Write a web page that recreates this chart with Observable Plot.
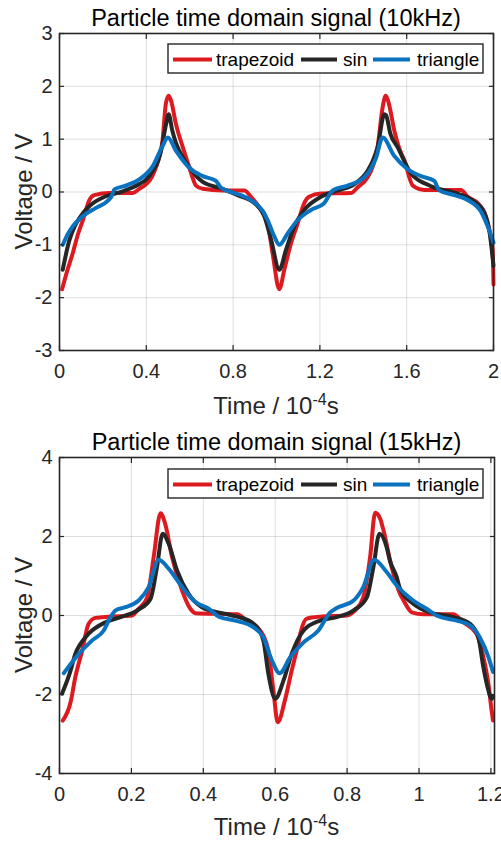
<!DOCTYPE html>
<html><head><meta charset="utf-8">
<script src="https://cdn.jsdelivr.net/npm/d3@7"></script>
<script src="https://cdn.jsdelivr.net/npm/@observablehq/plot@0.6"></script>
<style>
body{margin:0;background:#fff;}
#chart svg{display:block;}
</style>
</head><body><div id="chart"></div>
<script>
// ---------- labels ----------
const panelTitles = ["Particle time domain signal (10kHz)", "Particle time domain signal (15kHz)"];
const xLabelMain = "Time / 10";
const xLabelSup = "-4";
const xLabelUnit = "s";
const yLabel = "Voltage / V";
const seriesNames = ["trapezoid", "sin", "triangle"];
const seriesColors = ["#dd1a1f", "#262626", "#0a72bf"];

// ---------- ticks ----------
const xTicks10 = [0, 0.4, 0.8, 1.2, 1.6, 2];
const yTicks10 = [-3, -2, -1, 0, 1, 2, 3];
const xTicks15 = [0, 0.2, 0.4, 0.6, 0.8, 1, 1.2];
const yTicks15 = [-4, -2, 0, 2, 4];
const xDomain10 = [0, 2];
const yDomain10 = [-3, 3];
const xDomain15 = [0, 1.21];
const yDomain15 = [-4, 4];

// ---------- 10 kHz data ----------
const t10Trap = [0.012,0.035,0.061,0.085,0.107,0.125,0.137,0.16,0.23,0.337,0.368,0.40,0.425,0.445,0.462,0.475,0.49,0.503,0.514,0.537,0.568,0.598,0.615,0.629,0.66,0.752,0.852,0.882,0.929,0.959,0.982,1.013,1.036,1.067,1.098,1.128,1.15,1.205,1.343,1.374,1.42,1.445,1.466,1.489,1.503,1.514,1.543,1.568,1.589,1.628,1.681,1.85,1.881,1.927,1.965,1.985,1.996,2.0];
const v10Trap = [-1.84,-1.5,-1.16,-0.80,-0.54,-0.30,-0.16,-0.06,-0.02,-0.02,0.06,0.15,0.28,0.47,0.70,0.98,1.67,1.82,1.73,1.28,0.85,0.47,0.25,0.12,0.06,0.03,0.03,-0.09,-0.34,-0.59,-1.16,-1.84,-1.47,-0.97,-0.59,-0.21,-0.09,-0.03,-0.02,0.09,0.28,0.50,0.85,1.60,1.82,1.73,1.16,0.80,0.60,0.12,0.04,0.04,-0.09,-0.21,-0.46,-0.80,-1.09,-1.75];
const t10Sin = [0.015,0.045,0.07,0.091,0.137,0.214,0.291,0.368,0.40,0.43,0.455,0.468,0.491,0.503,0.52,0.535,0.552,0.598,0.66,0.752,0.821,0.898,0.944,0.975,1.013,1.044,1.082,1.128,1.205,1.282,1.359,1.42,1.445,1.466,1.497,1.505,1.525,1.558,1.62,1.712,1.835,1.911,1.958,1.98,2.0];
const v10Sin = [-1.47,-0.92,-0.65,-0.50,-0.27,-0.08,0.01,0.15,0.24,0.40,0.60,0.78,1.28,1.47,1.16,0.95,0.78,0.47,0.19,0.06,-0.06,-0.21,-0.46,-0.90,-1.47,-1.09,-0.65,-0.34,-0.09,0.03,0.15,0.40,0.60,0.85,1.47,1.45,1.10,0.85,0.35,0.11,-0.03,-0.18,-0.40,-0.71,-1.40];
const t10Tri = [0.015,0.035,0.061,0.107,0.168,0.222,0.24,0.253,0.306,0.368,0.43,0.475,0.499,0.537,0.598,0.66,0.721,0.744,0.798,0.836,0.913,0.94,0.959,0.99,1.013,1.052,1.098,1.159,1.22,1.24,1.259,1.328,1.405,1.459,1.489,1.543,1.605,1.666,1.727,1.75,1.82,1.881,1.942,1.973,2.0];
const v10Tri = [-1.00,-0.82,-0.65,-0.46,-0.30,-0.17,-0.08,0.05,0.12,0.24,0.49,0.87,1.03,0.78,0.46,0.30,0.21,0.08,-0.01,-0.06,-0.25,-0.38,-0.53,-0.84,-1.00,-0.78,-0.53,-0.34,-0.21,-0.08,0.03,0.12,0.28,0.65,1.03,0.68,0.43,0.30,0.21,0.03,-0.06,-0.15,-0.37,-0.65,-0.96];

// ---------- 15 kHz data ----------
const t15Trap = [0.009,0.031,0.044,0.063,0.081,0.10,0.137,0.202,0.22,0.244,0.262,0.281,0.294,0.313,0.341,0.364,0.378,0.452,0.494,0.521,0.558,0.581,0.595,0.607,0.628,0.646,0.662,0.672,0.688,0.725,0.799,0.822,0.845,0.864,0.878,0.892,0.90,0.924,0.947,0.956,0.98,1.012,1.095,1.123,1.16,1.179,1.193,1.202,1.206];
const v15Trap = [-2.66,-2.19,-1.56,-0.89,-0.21,-0.06,-0.03,0.0,0.17,0.46,1.48,2.59,2.32,1.48,0.63,0.17,0.06,0.04,0.03,-0.13,-0.38,-0.89,-1.90,-2.70,-2.11,-1.39,-0.80,-0.38,-0.08,-0.03,0.0,0.13,0.46,1.48,2.60,2.45,2.20,1.22,0.55,0.40,0.08,0.03,0.03,-0.17,-0.46,-1.05,-1.73,-2.41,-2.66];
const t15Sin = [0.007,0.031,0.044,0.058,0.081,0.128,0.174,0.22,0.253,0.271,0.287,0.304,0.327,0.359,0.396,0.452,0.494,0.54,0.567,0.581,0.60,0.623,0.646,0.679,0.725,0.771,0.818,0.855,0.873,0.89,0.91,0.919,0.938,0.947,0.984,1.03,1.095,1.142,1.165,1.179,1.193,1.202,1.206];
const v15Sin = [-1.98,-1.39,-0.97,-0.72,-0.46,-0.17,-0.03,0.15,0.42,1.22,2.07,1.81,1.14,0.55,0.21,0.06,-0.03,-0.21,-0.63,-1.48,-2.11,-1.65,-0.97,-0.38,-0.13,-0.04,0.13,0.46,1.22,2.07,1.73,1.39,0.97,0.68,0.30,0.08,-0.04,-0.21,-0.55,-1.31,-1.90,-2.11,-2.05];
const t15Tri = [0.012,0.054,0.091,0.123,0.142,0.156,0.183,0.22,0.248,0.276,0.304,0.341,0.378,0.415,0.443,0.489,0.54,0.567,0.591,0.612,0.642,0.679,0.72,0.753,0.771,0.818,0.845,0.875,0.91,0.938,0.984,1.021,1.049,1.105,1.142,1.169,1.193,1.206];
const v15Tri = [-1.46,-0.97,-0.63,-0.38,-0.04,0.13,0.21,0.38,0.72,1.41,1.18,0.72,0.34,0.17,-0.03,-0.13,-0.30,-0.55,-1.14,-1.46,-1.05,-0.68,-0.38,0.08,0.19,0.38,0.72,1.41,1.10,0.76,0.38,0.17,0.0,-0.13,-0.25,-0.55,-1.05,-1.43];

const FONT = "Liberation Sans, Arial, Helvetica, sans-serif";
const INK = "#262626";

function rows(ts, vs) { return ts.map((t, i) => ({t, v: vs[i]})); }

function panel(cfg) {
  const series = cfg.series.map(([ts, vs]) => rows(ts, vs));
  const svg = Plot.plot({
    width: 501, height: cfg.height,
    marginLeft: 59, marginRight: cfg.mr, marginTop: cfg.mt, marginBottom: cfg.mb,
    style: {fontFamily: FONT, fontSize: "20px", color: INK, background: "#fff", overflow: "visible"},
    x: {domain: cfg.xDomain},
    y: {domain: cfg.yDomain},
    marks: [
      Plot.gridX(cfg.xTicks, {stroke: "#000", strokeOpacity: 0.13, strokeWidth: 1}),
      Plot.gridY(cfg.yTicks, {stroke: "#000", strokeOpacity: 0.13, strokeWidth: 1}),
      ...series.map((d, i) => Plot.line(d, {x: "t", y: "v", stroke: seriesColors[i], strokeWidth: 4, curve: "monotone-x", strokeLinejoin: "round", strokeLinecap: "round"})),
      Plot.axisX(cfg.xTicks, {anchor: "bottom", tickSize: -5, tickPadding: 18, tickFormat: d => String(d), label: null, fontSize: 20, stroke: INK, strokeWidth: 1.2}),
      Plot.axisX(cfg.xTicks, {anchor: "top", tickSize: -5, tickFormat: () => "", label: null, stroke: INK, strokeWidth: 1.2}),
      Plot.axisY(cfg.yTicks, {anchor: "left", tickSize: -5, tickPadding: 12, tickFormat: d => String(d), label: null, fontSize: 20, stroke: INK, strokeWidth: 1.2}),
      Plot.axisY(cfg.yTicks, {anchor: "right", tickSize: -5, tickFormat: () => "", label: null, stroke: INK, strokeWidth: 1.2}),
      Plot.frame({stroke: INK, strokeWidth: 1.6})
    ]
  });
  const s = d3.select(svg);
  const left = 59, right = 501 - cfg.mr, top = cfg.mt, bottom = cfg.height - cfg.mb;
  const cx = (left + right) / 2;
  // title
  s.append("text").attr("x", cx).attr("y", top - 7).attr("text-anchor", "middle")
    .attr("font-family", FONT).attr("font-size", 23.5).attr("fill", "#000").text(cfg.title);
  // x label with superscript
  const xl = s.append("text").attr("x", cx).attr("y", bottom + cfg.xlDy).attr("text-anchor", "middle")
    .attr("font-family", FONT).attr("font-size", 24).attr("fill", INK);
  xl.append("tspan").text(xLabelMain);
  xl.append("tspan").attr("dy", -9).attr("font-size", 16).text(xLabelSup);
  xl.append("tspan").attr("dy", 9).text(xLabelUnit);
  // y label
  s.append("text").attr("transform", `translate(32,${(top + bottom) / 2}) rotate(-90)`).attr("text-anchor", "middle")
    .attr("font-family", FONT).attr("font-size", 24).attr("fill", INK).text(yLabel);
  // legend
  const lg = s.append("g");
  lg.append("rect").attr("x", 168).attr("y", cfg.lgY).attr("width", 315).attr("height", 29)
    .attr("fill", "#fff").attr("stroke", INK).attr("stroke-width", 1.4);
  const ly = cfg.lgY + 15.5;
  const items = [[173, 212, 216], [301, 337, 343], [373, 410, 417]];
  items.forEach(([x1, x2, tx], i) => {
    lg.append("line").attr("x1", x1).attr("x2", x2).attr("y1", ly).attr("y2", ly)
      .attr("stroke", seriesColors[i]).attr("stroke-width", 4);
    lg.append("text").attr("x", tx).attr("y", ly + 6.5).attr("text-anchor", "start")
      .attr("font-family", FONT).attr("font-size", 19).attr("fill", "#000").text(seriesNames[i]);
  });
  return svg;
}

const root = document.getElementById("chart");
root.appendChild(panel({
  height: 420, mt: 33, mb: 70, mr: 8, xlDy: 64, lgY: 44,
  title: panelTitles[0], xDomain: xDomain10, yDomain: yDomain10, xTicks: xTicks10, yTicks: yTicks10,
  series: [[t10Trap, v10Trap], [t10Sin, v10Sin], [t10Tri, v10Tri]]
}));
root.appendChild(panel({
  height: 421, mt: 37, mb: 68, mr: 7, xlDy: 62, lgY: 49,
  title: panelTitles[1], xDomain: xDomain15, yDomain: yDomain15, xTicks: xTicks15, yTicks: yTicks15,
  series: [[t15Trap, v15Trap], [t15Sin, v15Sin], [t15Tri, v15Tri]]
}));
</script>
</body></html>
